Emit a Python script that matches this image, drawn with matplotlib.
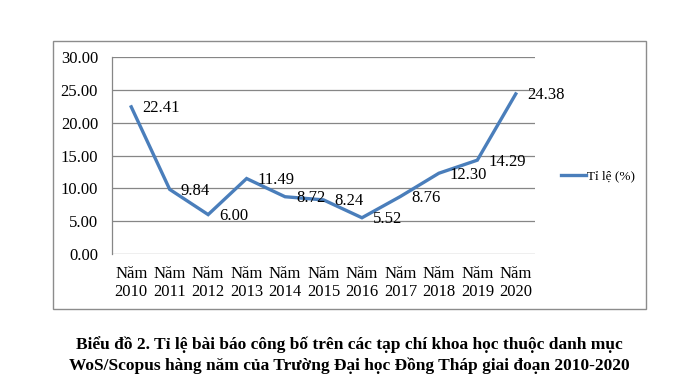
import matplotlib
matplotlib.use("Agg")
import matplotlib.pyplot as plt
from matplotlib.patches import Rectangle

years = ["2010", "2011", "2012", "2013", "2014", "2015", "2016", "2017", "2018", "2019", "2020"]
values = [22.41, 9.84, 6.00, 11.49, 8.72, 8.24, 5.52, 8.76, 12.30, 14.29, 24.38]
yticks = [0, 5, 10, 15, 20, 25, 30]
series_name = "Tỉ lệ (%)"
caption = ("Biểu đồ 2. Tỉ lệ bài báo công bố trên các tạp chí khoa học thuộc danh mục\n"
           "WoS/Scopus hàng năm của Trường Đại học Đồng Tháp giai đoạn 2010-2020")

plt.rcParams['font.family'] = ['Liberation Serif', 'DejaVu Serif']
W, H = 694, 384
fig = plt.figure(figsize=(W / 100, H / 100), dpi=100)

# outer chart frame
fig.patches.append(Rectangle((53 / W, 1 - 309 / H), (646 - 53) / W, (309 - 41) / H,
                             transform=fig.transFigure, fill=False, edgecolor='#8c8c8c', lw=1.0))

ax = fig.add_axes([112 / W, 1 - 254 / H, (535 - 112) / W, (254 - 57) / H])
x = list(range(len(years)))
ax.plot(x, values, color='#4a7ebb', lw=2.4, solid_joinstyle='miter', label=series_name)
ax.set_xlim(-0.5, len(years) - 0.5)
ax.set_ylim(0, 30)
ax.set_yticks(yticks)
ax.set_yticklabels([f"{v:.2f}" for v in yticks], fontsize=12)
ax.set_xticks(x)
ax.set_xticklabels([f"Năm\n{y}" for y in years], fontsize=12, linespacing=1.1)
ax.tick_params(length=0)
ax.tick_params(axis='y', pad=10)
ax.tick_params(axis='x', pad=9)
for s in ['top', 'right', 'bottom']:
    ax.spines[s].set_visible(False)
ax.spines['left'].set_color('#868686')
ax.spines['left'].set_linewidth(0.9)
ax.grid(axis='y', color='#868686', lw=0.9)
ax.set_axisbelow(True)

for xi, v in zip(x, values):
    ax.annotate(f"{v:.2f}", (xi, v), xytext=(8, -1), textcoords='offset points',
                ha='left', va='center', fontsize=12)

leg = fig.legend(loc='center left', bbox_to_anchor=(549 / W, 1 - 176 / H), frameon=False,
                 fontsize=9.5, handlelength=1.9, handletextpad=0.05)

fig.text(349 / W, 1 - 355 / H, caption, ha='center', va='center', fontsize=12.5,
         fontweight='bold', linespacing=1.42)

fig.savefig("out.png", dpi=100)
